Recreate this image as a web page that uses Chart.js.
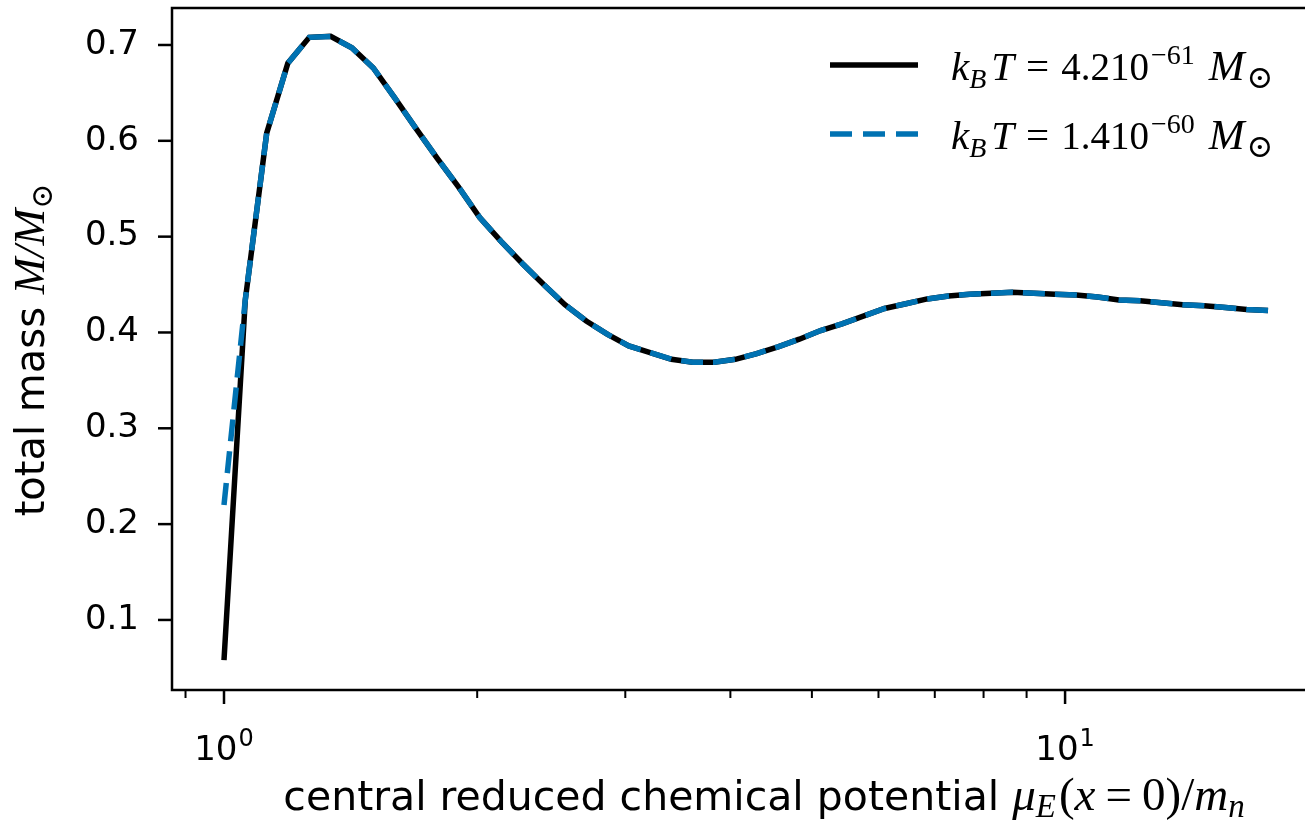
<!DOCTYPE html>
<html>
<head>
<meta charset="utf-8">
<script src="https://cdn.jsdelivr.net/npm/chart.js@4/dist/chart.umd.min.js"></script>
<style>
  html, body { margin: 0; padding: 0; background: #fff; overflow: hidden; }
  #wrap { width: 1320px; height: 822px; }
</style>
</head>
<body>
<div id="wrap"><canvas id="chart" width="1320" height="822"></canvas></div>
<script>
// ── Data ─────────────────────────────────────────────────────────────────────
const muCentral = [
  1.000, 1.060, 1.124, 1.191, 1.263, 1.339, 1.419, 1.505, 1.595, 1.691,
  1.792, 1.900, 2.014, 2.135, 2.263, 2.399, 2.543, 2.696, 2.858, 3.029,
  3.211, 3.404, 3.609, 3.826, 4.055, 4.299, 4.557, 4.831, 5.121, 5.429,
  5.755, 6.101, 6.467, 6.856, 7.268, 7.704, 8.167, 8.658, 9.178, 9.730,
  10.31, 10.93, 11.59, 12.28, 13.02, 13.80, 14.63, 15.51, 16.44, 17.43
];
const massLowT = [
  0.058, 0.434, 0.608, 0.681, 0.708, 0.709, 0.697, 0.676, 0.645, 0.613,
  0.582, 0.552, 0.520, 0.495, 0.472, 0.450, 0.429, 0.412, 0.398, 0.386,
  0.379, 0.372, 0.369, 0.369, 0.372, 0.378, 0.385, 0.393, 0.402, 0.409,
  0.417, 0.425, 0.430, 0.435, 0.438, 0.440, 0.441, 0.442, 0.441, 0.440,
  0.439, 0.437, 0.434, 0.433, 0.431, 0.429, 0.428, 0.426, 0.424, 0.423
];
const massHighT = [
  0.220, 0.434, 0.608, 0.681, 0.708, 0.709, 0.697, 0.676, 0.645, 0.613,
  0.582, 0.552, 0.520, 0.495, 0.472, 0.450, 0.429, 0.412, 0.398, 0.386,
  0.379, 0.372, 0.369, 0.369, 0.372, 0.378, 0.385, 0.393, 0.402, 0.409,
  0.417, 0.425, 0.430, 0.435, 0.438, 0.440, 0.441, 0.442, 0.441, 0.440,
  0.439, 0.437, 0.434, 0.433, 0.431, 0.429, 0.428, 0.426, 0.424, 0.423
];
const xTicks = [0.9, 1, 2, 3, 4, 5, 6, 7, 8, 9, 10, 20];
const xMajor = [1, 10];
const xMajorExp = ["0", "1"];
const yTicks = [0.1, 0.2, 0.3, 0.4, 0.5, 0.6, 0.7];

// ── Fonts / colours ───────────────────────────────────────────────────────────
const SANS = '"DejaVu Sans", sans-serif';
const SERIF = '"Liberation Serif", "DejaVu Serif", serif';
const BLUE = "#0072b2";

// runs are [text, font, dy, gapBefore], drawn left to right
function runsWidth(ctx, runs) {
  let w = 0;
  runs.forEach(([t, f, dy, gap]) => { ctx.font = f; w += (gap || 0) + ctx.measureText(t).width; });
  return w;
}
function drawRuns(ctx, runs, x, y) {
  runs.forEach(([t, f, dy, gap]) => {
    ctx.font = f;
    x += gap || 0;
    ctx.fillText(t, x, y + (dy || 0));
    x += ctx.measureText(t).width;
  });
}

// ── Frame, ticks, titles, legend ──────────────────────────────────────────────
const decorations = {
  id: "decorations",
  afterDraw(chart) {
    const ctx = chart.ctx;
    const { left, right, top, bottom } = chart.chartArea;
    const xs = chart.scales.x, ys = chart.scales.y;
    ctx.save();
    ctx.strokeStyle = "#000";
    ctx.fillStyle = "#000";
    ctx.lineWidth = 2.5;
    ctx.strokeRect(left, top, right - left, bottom - top);

    yTicks.forEach(v => {
      const py = ys.getPixelForValue(v);
      ctx.beginPath(); ctx.moveTo(left - 14, py); ctx.lineTo(left, py); ctx.stroke();
    });
    xTicks.forEach(v => {
      const px = xs.getPixelForValue(v);
      const major = xMajor.includes(v);
      ctx.lineWidth = major ? 2.5 : 2;
      ctx.beginPath(); ctx.moveTo(px, bottom); ctx.lineTo(px, bottom + (major ? 14 : 8)); ctx.stroke();
    });

    ctx.textBaseline = "alphabetic";
    ctx.textAlign = "left";

    // x tick labels 10^n
    xMajor.forEach((v, i) => {
      const runs = [["10", `34px ${SANS}`], [xMajorExp[i], `24px ${SANS}`, -14, 1]];
      const w = runsWidth(ctx, runs);
      drawRuns(ctx, runs, xs.getPixelForValue(v) - w / 2, 760);
    });

    // x title
    const M = `47px ${SERIF}`, MI = `italic 47px ${SERIF}`, SUB = `italic 33px ${SERIF}`;
    const xRuns = [
      ["central reduced chemical potential ", `41px ${SANS}`],
      ["μ", MI],
      ["E", SUB, 7],
      ["(", M, 0, 3],
      ["x", MI],
      ["=", M, 0, 10],
      ["0", M, 0, 10],
      [")", M],
      ["/", M],
      ["m", MI],
      ["n", SUB, 7],
    ];
    const xw = runsWidth(ctx, xRuns);
    drawRuns(ctx, xRuns, 764 - xw / 2, 810);

    // y title (rotated)
    const yRuns = [
      ["total mass ", `40px ${SANS}`],
      ["M/M", `italic 44px ${SERIF}`],
      ["⊙", `30px ${SERIF}`, 8],
    ];
    const yw = runsWidth(ctx, yRuns);
    ctx.save();
    ctx.translate(44, 350);
    ctx.rotate(-Math.PI / 2);
    drawRuns(ctx, yRuns, -yw / 2, 0);
    ctx.restore();

    // legend
    const legendRows = [
      { color: "#000", dash: [], text: "4.210", exp: "−61", y: 65 },
      { color: BLUE, dash: [22, 11], text: "1.410", exp: "−60", y: 134 },
    ];
    legendRows.forEach(r => {
      ctx.strokeStyle = r.color;
      ctx.lineWidth = 5.5;
      ctx.setLineDash(r.dash);
      ctx.beginPath(); ctx.moveTo(830, r.y); ctx.lineTo(918, r.y); ctx.stroke();
      ctx.setLineDash([]);
      drawRuns(ctx, [
        ["k", `italic 41px ${SERIF}`],
        ["B", `italic 28px ${SERIF}`, 8],
        ["T", `italic 41px ${SERIF}`, 0, 5],
        ["=", `41px ${SERIF}`, 0, 12],
        [r.text, `39px ${SERIF}`, 0, 12],
        [r.exp, `28px ${SERIF}`, -16, 2],
        ["M", `italic 43px ${SERIF}`, 0, 14],
        ["⊙", `32px ${SERIF}`, 8, 2],
      ], 951, r.y + 15);
    });
    ctx.restore();
  }
};

// ── Chart ─────────────────────────────────────────────────────────────────────
new Chart(document.getElementById("chart"), {
  type: "line",
  data: {
    datasets: [
      {
        label: "kBT = 4.210^-61 M☉",
        data: muCentral.map((x, i) => ({ x, y: massLowT[i] })),
        borderColor: "#000", borderWidth: 5.5, pointRadius: 0, tension: 0,
        borderCapStyle: "butt", order: 2,
      },
      {
        label: "kBT = 1.410^-60 M☉",
        data: muCentral.map((x, i) => ({ x, y: massHighT[i] })),
        borderColor: BLUE, borderWidth: 5.5, borderDash: [22, 10], pointRadius: 0, tension: 0,
        borderCapStyle: "butt", order: 1,
      },
    ],
  },
  options: {
    responsive: false,
    animation: false,
    devicePixelRatio: 1,
    layout: { padding: { top: 8, right: 8, left: 0, bottom: 0 } },
    plugins: { legend: { display: false }, tooltip: { enabled: false } },
    scales: {
      x: {
        type: "logarithmic",
        min: 0.8673, max: 19.66,
        afterBuildTicks: s => { s.ticks = xTicks.map(v => ({ value: v })); },
        afterFit: s => { s.height = 132; s.paddingLeft = 0; s.paddingRight = 0; },
        grid: { display: false, drawTicks: false },
        border: { display: false },
        ticks: { display: false, autoSkip: false },
      },
      y: {
        min: 0.0269, max: 0.7386,
        afterBuildTicks: s => { s.ticks = yTicks.map(v => ({ value: v })); },
        afterFit: s => { s.width = 172; s.paddingTop = 0; s.paddingBottom = 0; },
        grid: { display: false, drawTicks: false },
        border: { display: false },
        ticks: {
          padding: 33, color: "#000",
          font: { family: SANS, size: 34 },
          callback: v => v.toFixed(1),
        },
      },
    },
  },
  plugins: [decorations],
});
</script>
</body>
</html>
